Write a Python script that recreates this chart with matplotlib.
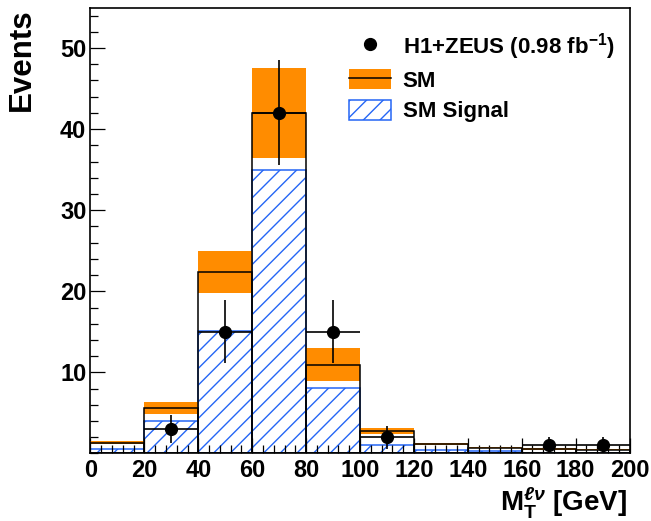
import numpy as np
import matplotlib
matplotlib.use('Agg')
import matplotlib.pyplot as plt
from matplotlib.patches import Patch
from matplotlib.lines import Line2D
from matplotlib.ticker import MultipleLocator

plt.rcParams['font.family'] = ['Liberation Sans', 'DejaVu Sans']
plt.rcParams['font.weight'] = 'bold'
plt.rcParams['mathtext.fontset'] = 'custom'
plt.rcParams['mathtext.rm'] = 'Liberation Sans:bold'
plt.rcParams['mathtext.bf'] = 'Liberation Sans:bold'
plt.rcParams['mathtext.it'] = 'Liberation Sans:italic'
plt.rcParams['hatch.linewidth'] = 1.0
###############################################################################
# Data
###############################################################################
edges = np.arange(0, 201, 20)
smVals = [1.33, 5.6, 22.4, 42.0, 10.95, 2.8, 1.2, 0.7, 0.55, 0.45]
smErr = [0.17, 0.7, 2.6, 5.5, 2.05, 0.4, 0.12, 0.08, 0.1, 0.05]
sigVals = [0.55, 4.05, 15.1, 34.9, 8.1, 1.1, 0.43, 0.35, 0.1, 0.05]
dataX = [30, 50, 70, 90, 110, 170, 190]
dataN = [3, 15, 42, 15, 2, 1, 1]
###############################################################################
# Styling
###############################################################################
(orange, blue) = ('#ff8c00', '#2566f5')
centers = (edges[:-1] + edges[1:]) / 2
width = np.diff(edges)
smVals = np.asarray(smVals)
smErr = np.asarray(smErr)
###############################################################################
# Plot
###############################################################################
fig = plt.figure(figsize=(6.51, 5.21), dpi=100)
ax = fig.add_axes([0.139, 0.1296, 0.828, 0.856])
# Signal (hatched)
ax.bar(
    centers, sigVals, width=width, facecolor='none',
    edgecolor=blue, hatch='//', lw=1.1, zorder=1
)
# SM uncertainty band
ax.bar(
    centers, 2*smErr, bottom=smVals-smErr, width=width,
    color=orange, lw=0, zorder=2
)
# SM outline
ax.bar(
    centers, smVals, width=width, fill=False,
    edgecolor='k', lw=1.1, zorder=3
)
# Data
ax.errorbar(
    dataX, dataN, xerr=10, yerr=np.sqrt(dataN),
    fmt='o', color='k', ms=8.5, elinewidth=1.2, capsize=0, zorder=4
)
# Axes
ax.set_xlim(0, 200)
ax.set_ylim(0, 55)
ax.set_xticks(np.arange(0, 201, 20))
ax.set_yticks([10, 20, 30, 40, 50])
ax.xaxis.set_minor_locator(MultipleLocator(4))
ax.yaxis.set_minor_locator(MultipleLocator(2))
ax.tick_params(
    which='both', direction='in', top=False, right=False,
    labelsize=17, width=0.9
)
ax.tick_params(which='major', length=11)
ax.tick_params(which='minor', length=5.5)
ax.tick_params(axis='x', pad=4)
ax.tick_params(axis='y', pad=3)
for sp in ax.spines.values():
    sp.set_linewidth(1.2)
# Labels
fig.text(
    22/651, 1-8/521, 'Events', rotation=90,
    ha='center', va='top', fontsize=22.5, fontweight='bold'
)
fig.text(
    627/651, 1-511/521, r'M$_{\mathbf{T}}^{\ell\nu}$ [GeV]',
    ha='right', va='baseline', fontsize=20, fontweight='bold'
)
# Legend
handles = [
    Line2D([], [], marker='o', color='k', ls='none', ms=8.5),
    (Patch(facecolor=orange, lw=0), Line2D([], [], color='k', lw=1.1)),
    Patch(facecolor='white', edgecolor=blue, hatch='//', lw=1.1),
]
labels = ['H1+ZEUS (0.98 fb$^{\mathbf{-1}}$)', 'SM', 'SM Signal']
ax.legend(
    handles, labels, loc='upper left', bbox_to_anchor=(0.48, 0.948),
    frameon=False, borderpad=0, borderaxespad=0,
    handlelength=1.9, handleheight=1.0, labelspacing=0.35,
    handletextpad=0.5,
    prop={'weight': 'bold', 'size': 16}
)
fig.savefig('out.png', dpi=100)
